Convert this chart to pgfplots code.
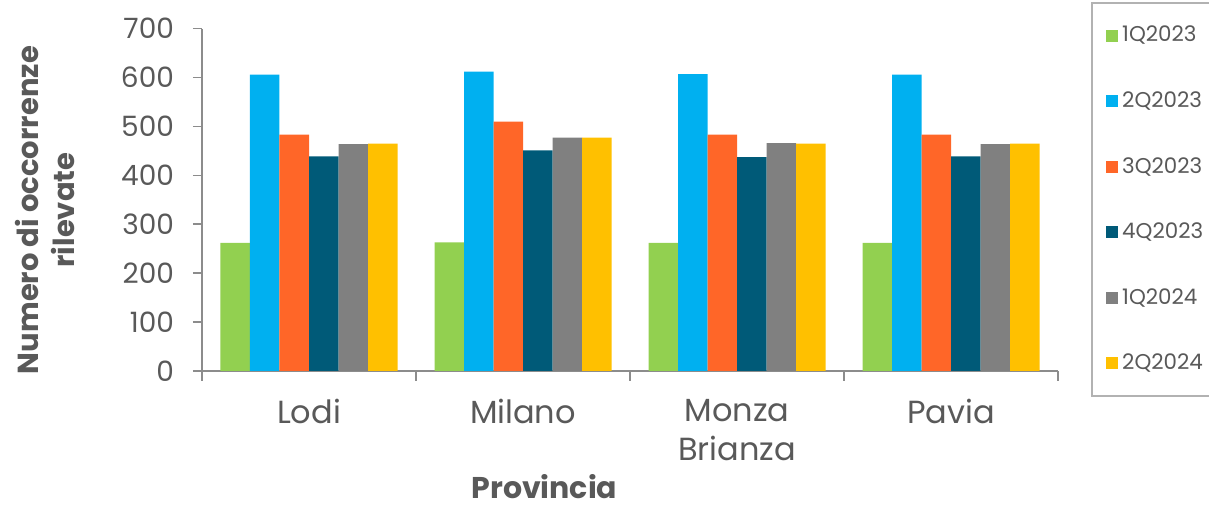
\documentclass[border=0pt]{standalone}
\usepackage{pgfplots}
\pgfplotsset{compat=1.18}
\usepackage{fontspec}
\setmainfont{Poppins}

\definecolor{cgreen}{HTML}{92D050}
\definecolor{cblue}{HTML}{00B0F0}
\definecolor{corange}{HTML}{FF6628}
\definecolor{cteal}{HTML}{005A78}
\definecolor{cgray}{HTML}{808080}
\definecolor{cyellow}{HTML}{FFC000}
\definecolor{txt}{HTML}{595959}
\definecolor{axl}{HTML}{8C8C8C}

\begin{document}
\begin{tikzpicture}
\useasboundingbox (0,0) rectangle (604.5pt,253pt);
\begin{axis}[
    at={(101pt,67.5pt)}, anchor=south west,
    scale only axis,
    width=428pt, height=171.2pt,
    ybar=0pt, bar width=14.75pt,
    xmin=0.5, xmax=4.5,
    ymin=0, ymax=700,
    ytick={0,100,...,700},
    xtick={1,2,3,4},
    xticklabels={Lodi,Milano,{Monza\\Brianza},Pavia},
    minor xtick={0.5,1.5,2.5,3.5,4.5},
    axis x line*=bottom, axis y line*=left,
    axis line style={axl, line width=0.8pt},
    tick align=outside,
    x tick style={draw=none},
    minor x tick style={draw=axl, line width=0.8pt},
    y tick style={draw=axl, line width=0.8pt},
    minor tick length=5pt,
    major tick length=4.5pt,
    yticklabel style={font=\fontsize{14}{16}\selectfont, text=txt, xshift=-6pt},
    xticklabel style={font=\fontsize{16}{19.5}\selectfont, text=txt, align=center, anchor=north, yshift=-6pt},
    /pgf/number format/assume math mode=true,
    ylabel={Numero di occorrenze\\rilevate},
    ylabel style={at={(axis description cs:-0.183,0.47)}, rotate=0, anchor=center,
        align=center, font=\fontsize{14.5}{18}\bfseries\selectfont, text=txt},
    xlabel={Provincia},
    xlabel style={at={(axis description cs:0.4,-0.372)}, anchor=base,
        font=\fontsize{15}{18}\bfseries\selectfont, text=txt},
    legend cell align=left,
    legend image code/.code={\fill[#1] (0pt,-3pt) rectangle (6pt,3pt);},
    legend style={at={(1,1)}, anchor=north west, xshift=16.5pt, yshift=13.3pt,
        draw=gray!60, line width=1.2pt, inner xsep=7pt, inner ysep=9.5pt,
        row sep=19.4pt, font=\fontsize{10.7}{12}\selectfont, text=txt},
]
\addplot[fill=cgreen, draw=none] coordinates {(1,262) (2,263) (3,262) (4,262)};
\addplot[fill=cblue, draw=none] coordinates {(1,606) (2,612) (3,607) (4,606)};
\addplot[fill=corange, draw=none] coordinates {(1,483) (2,510) (3,483) (4,483)};
\addplot[fill=cteal, draw=none] coordinates {(1,439) (2,451) (3,437) (4,439)};
\addplot[fill=cgray, draw=none] coordinates {(1,464) (2,477) (3,466) (4,464)};
\addplot[fill=cyellow, draw=none] coordinates {(1,465) (2,477) (3,465) (4,465)};
\legend{1Q2023,2Q2023,3Q2023,4Q2023,1Q2024,2Q2024}
\end{axis}
\end{tikzpicture}
\end{document}
